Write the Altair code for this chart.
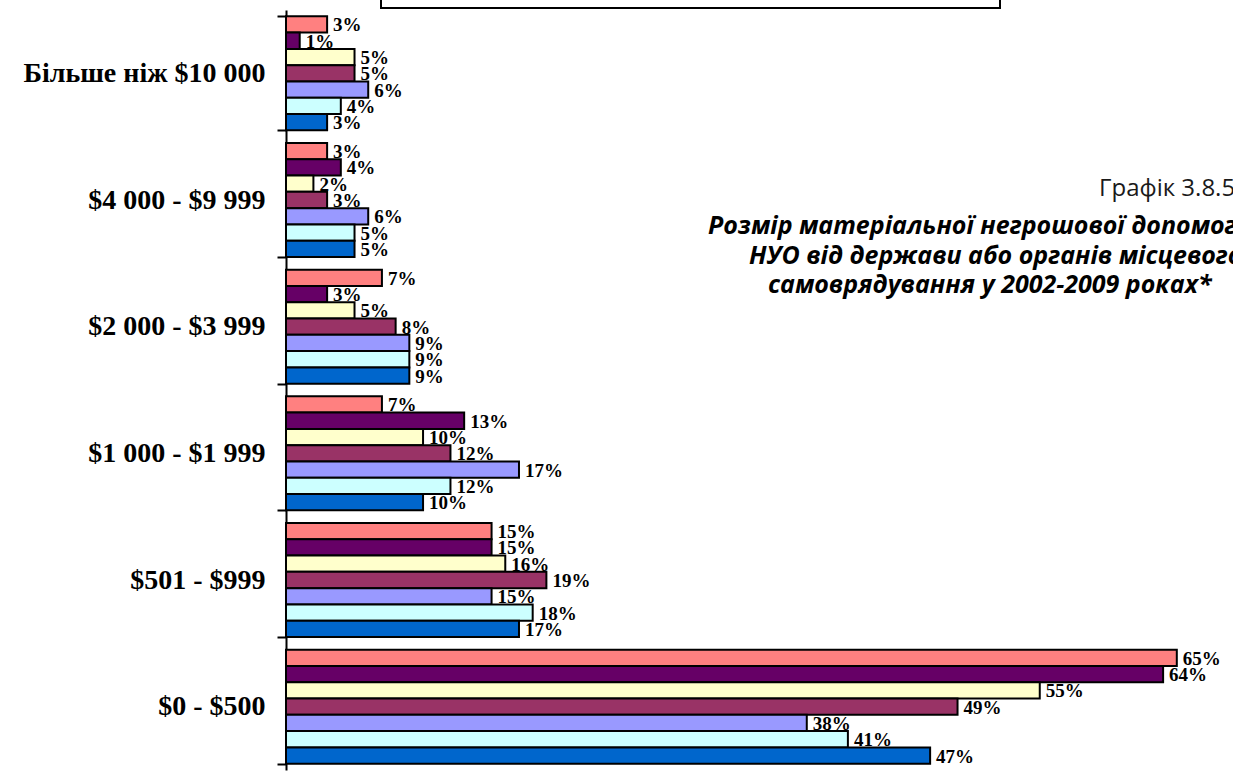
import altair as alt
import pandas as pd

# Income brackets, top to bottom
categories = ["Більше ніж $10 000\u00a0", "$4 000 - $9 999", "$2 000 - $3 999",
              "$1 000 - $1 999", "$501 - $999", "$0 - $500"]

# Survey years, in the order the bars are stacked inside each bracket
years = ["2009", "2008", "2006", "2005", "2004", "2003", "2002"]
colors = ["#FF8080", "#660066", "#FFFFCC", "#993366", "#9999FF", "#CCFFFF", "#0066CC"]

# Share of organisations (%) per bracket, one list per year
share_2009 = [3, 3, 7, 7, 15, 65]
share_2008 = [1, 4, 3, 13, 15, 64]
share_2006 = [5, 2, 5, 10, 16, 55]
share_2005 = [5, 3, 8, 12, 19, 49]
share_2004 = [6, 6, 9, 17, 15, 38]
share_2003 = [4, 5, 9, 12, 18, 41]
share_2002 = [3, 5, 9, 10, 17, 47]

series = [share_2009, share_2008, share_2006, share_2005,
          share_2004, share_2003, share_2002]

rows = []
for year, values in zip(years, series):
    for cat, v in zip(categories, values):
        rows.append({"bracket": cat, "year": year, "share": v, "label": f"{v}%"})
df = pd.DataFrame(rows)

heading = "Графік 3.8.5"
title_lines = ["Розмір матеріальної негрошової допомоги",
               "НУО від держави або органів місцевого",
               "самоврядування у 2002-2009 роках*"]

x_enc = alt.X("share:Q", axis=None,
              scale=alt.Scale(domain=[0, 69.1], nice=False, zero=True))
y_enc = alt.Y("bracket:N", sort=categories, title=None,
              scale=alt.Scale(paddingInner=0.1, paddingOuter=0.05),
              axis=alt.Axis(domainColor="black", domainWidth=2,
                            tickColor="black", tickWidth=2, tickSize=9,
                            tickBand="extent", labelFont="Liberation Serif",
                            labelFontWeight="bold", labelFontSize=28,
                            labelColor="black", labelPadding=12,
                            labelLimit=400))
yoff = alt.YOffset("year:N", sort=years)

bars = alt.Chart(df).mark_bar(stroke="black", strokeWidth=2).encode(
    x=x_enc, y=y_enc, yOffset=yoff,
    color=alt.Color("year:N", sort=years, legend=None,
                    scale=alt.Scale(domain=years, range=colors)),
)

labels = alt.Chart(df).mark_text(
    align="left", baseline="middle", dx=6, dy=1,
    font="Liberation Serif", fontWeight="bold", fontSize=19, color="black",
).encode(x=x_enc, y=y_enc, yOffset=yoff, text="label:N")

# Frame of the legend box, which sits mostly above the page
legend_frame = alt.Chart(pd.DataFrame({"k": [0]})).mark_rect(
    fill="white", stroke="black", strokeWidth=2
).encode(x=alt.value(95), x2=alt.value(714), y=alt.value(-20), y2=alt.value(-2))

heading_text = alt.Chart(pd.DataFrame({"t": [heading]})).mark_text(
    align="left", baseline="middle", font="Open Sans", fontSize=24, color="#1a1a1a"
).encode(x=alt.value(813), y=alt.value(179), text="t:N")

title_layers = []
for line, xs, ys in zip(title_lines, [422, 463, 482], [216, 246, 275]):
    title_layers.append(
        alt.Chart(pd.DataFrame({"t": [line]})).mark_text(
            align="left", baseline="middle", font="Open Sans",
            fontWeight="bold", fontStyle="italic", fontSize=25, color="black"
        ).encode(x=alt.value(xs), y=alt.value(ys), text="t:N")
    )

chart = alt.layer(bars, labels, legend_frame, heading_text, *title_layers).properties(
    width=947, height=760,
    autosize=alt.AutoSizeParams(type="none"),
    padding={"left": 286, "top": 10, "right": 0, "bottom": 5},
    background="white",
).configure_view(stroke=None)

chart.save("out.html", embed_options={"renderer": "svg", "actions": False})
